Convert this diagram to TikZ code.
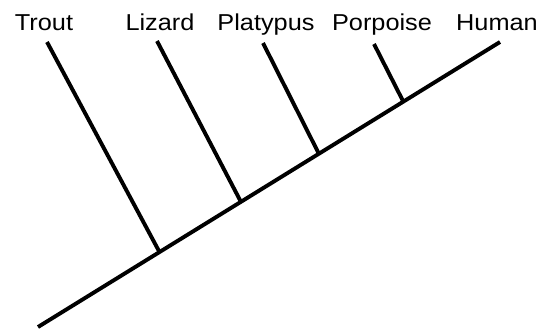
\documentclass[tikz,border=0pt]{standalone}
\usepackage{fontspec}
\setmainfont{Liberation Sans}
\begin{document}
\begin{tikzpicture}[x={(1pt,0)},y={(0,-1pt)},
  branch/.style={line width=3.9pt,black},
  taxon/.style={anchor=base,inner sep=0pt,font=\fontsize{23}{27}\selectfont}]
\useasboundingbox (0,0) rectangle (540,332);
% labels
\node[taxon] (trout) at (44,30) {\scalebox{1.1}[1]{Trout}};
\node[taxon] (lizard) at (160,30) {\scalebox{1.1}[1]{Lizard}};
\node[taxon] (platypus) at (266,30) {\scalebox{1.1}[1]{Platypus}};
\node[taxon] (porpoise) at (382,30) {\scalebox{1.1}[1]{Porpoise}};
\node[taxon] (human) at (497,30) {\scalebox{1.1}[1]{Human}};
% branch tips
\coordinate (tTrout) at (47,42);
\coordinate (tLizard) at (157,41);
\coordinate (tPlatypus) at (263,43);
\coordinate (tPorpoise) at (374,44);
\coordinate (tHuman) at (500,42);
% root and junctions
\coordinate (root) at (38,327);
\coordinate (jTrout) at (160,253);
\coordinate (jLizard) at (241,202);
\coordinate (jPlatypus) at (319,154);
\coordinate (jPorpoise) at (403,101);
% draw
\draw[branch] (root) -- (tHuman);
\draw[branch] (tTrout) -- (jTrout);
\draw[branch] (tLizard) -- (jLizard);
\draw[branch] (tPlatypus) -- (jPlatypus);
\draw[branch] (tPorpoise) -- (jPorpoise);
\end{tikzpicture}
\end{document}
